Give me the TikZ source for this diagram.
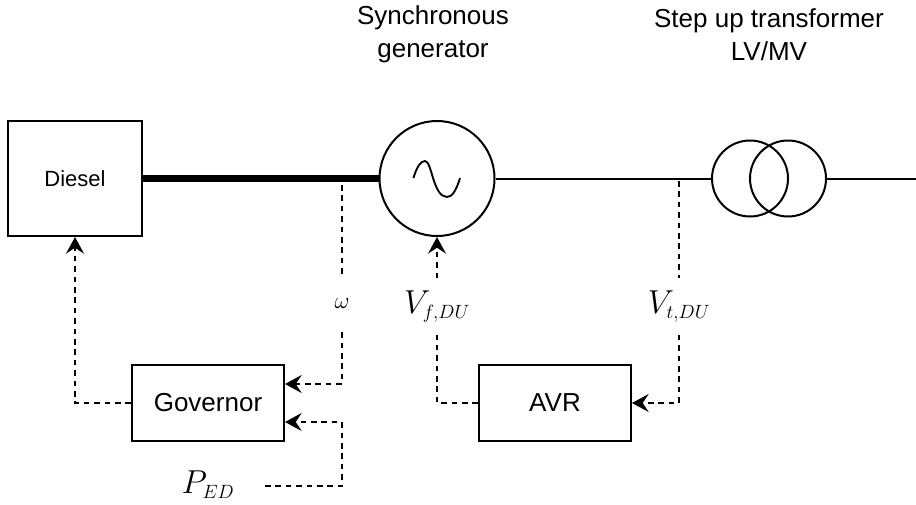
\documentclass[tikz,border=0pt]{standalone}
\usepackage{fontspec}
\setmainfont{Liberation Sans}
\usetikzlibrary{arrows.meta}
\DeclareMathSizes{22}{23}{14}{11}
\DeclareMathSizes{18}{19}{13}{10}
\tikzset{
  x=0.75pt,y=-0.75pt,
  wire/.style={line width=1.5pt,line cap=butt},
  shaft/.style={line width=5pt,line cap=butt},
  sig/.style={line width=1.4pt,dash pattern=on 4.2pt off 3.6pt},
  sigarrow/.style={sig,-{Stealth[length=12.5pt,width=13.5pt,inset=4.5pt,sep=0pt]}},
  block/.style={draw,line width=1.5pt,inner sep=0pt,align=center},
  circ/.style={draw,circle,line width=1.5pt,inner sep=0pt},
  caption/.style={align=center,font=\fontsize{19.5pt}{24.75pt}\selectfont},
  lab/.style={inner sep=0pt,minimum width=10pt,minimum height=42pt}
}
\begin{document}
\begin{tikzpicture}
\useasboundingbox (0,0) rectangle (916,504);
% blocks
\node[block,minimum width=100.5pt,minimum height=86.25pt,font=\fontsize{16.5pt}{20pt}\selectfont] (diesel) at (75,178.5) {Diesel};
\node[circ,minimum size=86.25pt] (gen) at (437,178.5) {};
\node[circ,minimum size=57pt] (t1) at (750,178.5) {};
\node[circ,minimum size=57pt] (t2) at (788,178.5) {};
\node[block,minimum width=114pt,minimum height=57pt,font=\fontsize{19.5pt}{24pt}\selectfont] (gov) at (208,403) {Governor};
\node[block,minimum width=114pt,minimum height=57pt,font=\fontsize{19.5pt}{24pt}\selectfont] (avr) at (555,403) {AVR};
% captions
\node[caption] (capgen) at (433,34.5) {Synchronous\\generator};
\node[caption] (captr) at (769,34.5) {Step up transformer\\LV/MV};
% signal labels
\node[lab,font=\fontsize{18pt}{20pt}\selectfont] (omega) at (342,304) {\raisebox{-3pt}{$\omega$}};
\node[lab,font=\fontsize{22pt}{24pt}\selectfont] (vf) at (437,306.5) {$V_{f,DU}$};
\node[lab,font=\fontsize{22pt}{24pt}\selectfont] (vt) at (679,306.5) {$V_{t,DU}$};
\node[inner sep=0pt,font=\fontsize{22pt}{24pt}\selectfont,minimum height=20pt] (ped) at (208,485) {$P_{ED}$};
% free ends
\coordinate (busa) at (342,185);
\coordinate (busb) at (679,181);
\coordinate (gridend) at (916,178.5);
\coordinate (pedout) at (265,486);
\coordinate (pedcorner) at (342,486);
\coordinate (govin1) at (285,384);
\coordinate (govin2) at (285,422);
% power path
\draw[shaft] (diesel.east) -- (gen.west);
\draw[wire] (gen.east) -- (t1.west);
\draw[wire] (t2.east) -- (gridend);
% sine symbol
\draw[wire,line width=1.4pt] (413.5,178)
  .. controls (417,166) and (421,161) .. (425,161)
  .. controls (432,161) and (433,197) .. (447,197)
  .. controls (452,197) and (456,191) .. (460,178);
% signals
\draw[sig] (busa) -- (omega.north);
\draw[sigarrow] (omega.south) |- (govin1);
\draw[sigarrow] (pedout) -- (pedcorner) |- (govin2);
\draw[sigarrow] (gov.west) -| (diesel.south);
\draw[sigarrow] (vf.north) -- (gen.south);
\draw[sig] (avr.west) -| (vf.south);
\draw[sig] (busb) -- (vt.north);
\draw[sigarrow] (vt.south) |- (avr.east);
\end{tikzpicture}
\end{document}
